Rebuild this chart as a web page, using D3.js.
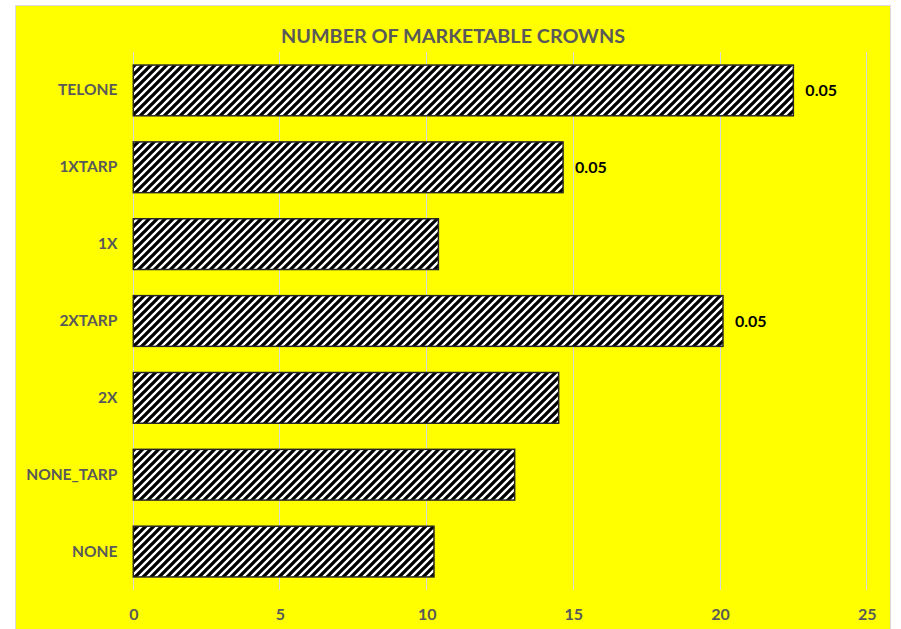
<!DOCTYPE html>
<html>
<head>
<meta charset="utf-8">
<script src="https://cdn.jsdelivr.net/npm/d3@7/dist/d3.min.js"></script>
<style>
  html, body { margin: 0; padding: 0; background: #ffffff; }
  svg { display: block; }
</style>
</head>
<body>
<script>
// Treatments, top to bottom
const categories = ["TELONE", "1XTARP", "1X", "2XTARP", "2X", "NONE_TARP", "NONE"];
// Number of marketable crowns per treatment
const crowns = [22.5, 14.65, 10.4, 20.1, 14.5, 13.0, 10.25];
// Significance labels shown beside some bars (empty = none)
const pLabels = ["0.05", "0.05", "", "0.05", "", "", ""];
const xTicks = [0, 5, 10, 15, 20, 25];
const chartTitle = "NUMBER OF MARKETABLE CROWNS";

const W = 901, H = 629;
const plot = { left: 133.3, right: 866.7, top: 52, bottom: 590 };
const fontFam = "Lato, 'Open Sans', 'DejaVu Sans', sans-serif";

const svg = d3.select("body").append("svg")
  .attr("width", W).attr("height", H);

// Diagonal hatch fill
const defs = svg.append("defs");
const pat = defs.append("pattern")
  .attr("id", "hatch")
  .attr("patternUnits", "userSpaceOnUse")
  .attr("width", 8).attr("height", 8);
pat.append("rect").attr("width", 8).attr("height", 8).attr("fill", "#ffffff");
pat.append("path")
  .attr("d", "M-2,2 L2,-2 M0,8 L8,0 M6,10 L10,6")
  .attr("stroke", "#000000")
  .attr("stroke-width", 3.3);

// Chart background
svg.append("rect")
  .attr("x", 15.5).attr("y", 5.5)
  .attr("width", 875).attr("height", 640)
  .attr("fill", "#ffff00")
  .attr("stroke", "#d9d9d9")
  .attr("stroke-width", 1);

const x = d3.scaleLinear().domain([0, 25]).range([plot.left, plot.right]);
const y = d3.scaleBand().domain(categories)
  .range([plot.top, plot.bottom]).paddingInner(0.34).paddingOuter(0.17);

// Vertical gridlines
svg.append("g")
  .selectAll("line").data(xTicks).join("line")
  .attr("x1", d => x(d)).attr("x2", d => x(d))
  .attr("y1", plot.top).attr("y2", plot.bottom)
  .attr("stroke", "#d9d9d9").attr("stroke-width", 1)
  .attr("shape-rendering", "crispEdges");

// Bars
svg.append("g")
  .selectAll("rect").data(categories).join("rect")
  .attr("x", x(0))
  .attr("y", d => y(d))
  .attr("width", (d, i) => x(crowns[i]) - x(0))
  .attr("height", y.bandwidth())
  .attr("fill", "url(#hatch)")
  .attr("stroke", "#262626")
  .attr("stroke-width", 1.5);

// Value labels
svg.append("g")
  .selectAll("text").data(categories).join("text")
  .attr("x", (d, i) => x(crowns[i]) + 12)
  .attr("y", d => y(d) + y.bandwidth() / 2)
  .attr("dy", "0.35em")
  .attr("font-family", fontFam)
  .attr("font-weight", "bold")
  .attr("font-size", 16)
  .attr("fill", "#000000")
  .text((d, i) => pLabels[i]);

// Category axis
const yAxis = svg.append("g")
  .attr("transform", `translate(${plot.left},0)`)
  .call(d3.axisLeft(y).tickSize(0).tickPadding(16));
yAxis.select(".domain").remove();
yAxis.selectAll("text")
  .attr("font-family", fontFam)
  .attr("font-weight", "bold")
  .attr("font-size", 15.5)
  .attr("fill", "#595959");

// Value axis
const xAxis = svg.append("g")
  .attr("transform", `translate(0,${plot.bottom})`)
  .call(d3.axisBottom(x).tickValues(xTicks).tickSize(0).tickPadding(19).tickFormat(d3.format("d")));
xAxis.select(".domain").remove();
xAxis.selectAll("text")
  .attr("font-family", fontFam)
  .attr("font-weight", "bold")
  .attr("font-size", 16)
  .attr("fill", "#595959");

// Title
svg.append("text")
  .attr("x", 453).attr("y", 43)
  .attr("text-anchor", "middle")
  .attr("font-family", fontFam)
  .attr("font-weight", "bold")
  .attr("font-size", 19.8)
  .attr("fill", "#595959")
  .text(chartTitle);
</script>
</body>
</html>
